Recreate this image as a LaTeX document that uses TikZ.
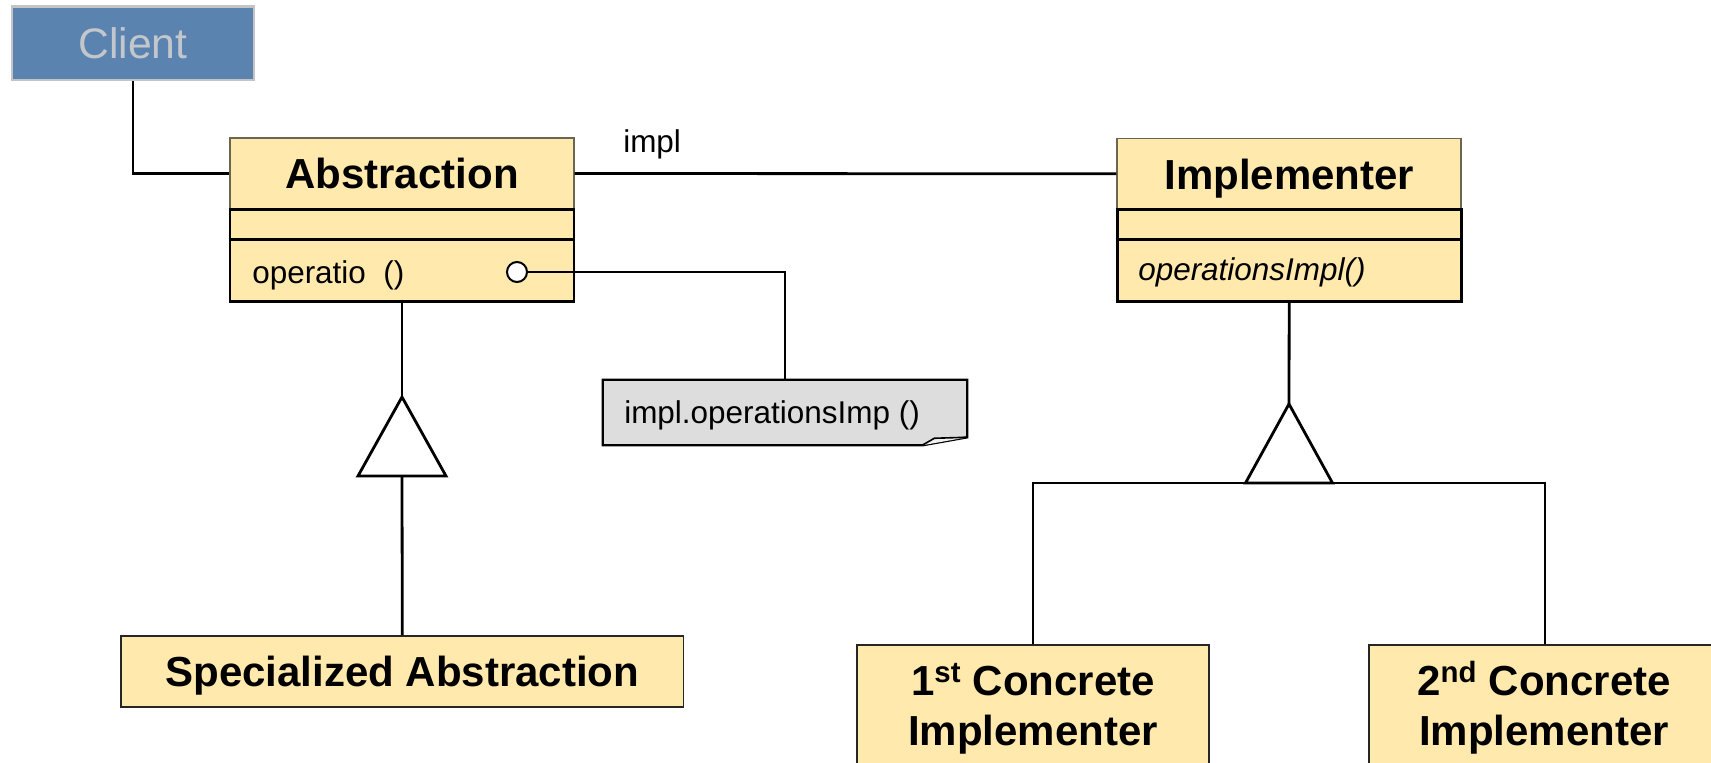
\documentclass[tikz,border=0pt]{standalone}
\usepackage{fontspec}
\setmainfont{Liberation Sans}
\usetikzlibrary{calc,fit}
\definecolor{clientfill}{HTML}{5A83B0}
\definecolor{clientborder}{HTML}{C4C4C4}
\definecolor{clienttext}{HTML}{C3C7CC}
\definecolor{classfill}{HTML}{FFE9AD}
\definecolor{nameborder}{HTML}{6B6651}
\definecolor{notefill}{HTML}{DDDDDD}
\definecolor{flapfill}{HTML}{F2F2F2}
\begin{document}
\begin{tikzpicture}[x=0.75pt,y=-0.75pt,
  conn/.style={line width=2.1pt, draw=black},
  namebox/.style={draw=nameborder, line width=1.1pt, fill=classfill, inner sep=0pt, minimum width=258pt, minimum height=53.25pt},
  compbox/.style={draw=black, line width=2.1pt, fill=classfill, inner sep=0pt, minimum width=258pt, minimum height=69.5pt},
  leafbox/.style={draw=black!85, line width=1.2pt, fill=classfill, inner sep=0pt},
  titletext/.style={font=\fontsize{31.5}{37.5}\selectfont\bfseries, text depth=0pt},
  bodytext/.style={font=\fontsize{23.6}{28}\selectfont, inner sep=0pt},
]
\useasboundingbox (0,0) rectangle (1711,763);
\clip (0,0) rectangle (1711,763);

% Client
\node[inner sep=0pt, minimum width=181.5pt, minimum height=55.1pt, fill=clientfill, draw=clientborder, line width=2.2pt,
      text=clienttext, font=\fontsize{32}{38}\selectfont, text depth=0pt] (client) at (133,43.25) {Client};

% Abstraction
\node[namebox, titletext] (absname) at (402,173.5) {Abstraction};
\node[compbox] (abscomp) at (402,255.5) {};
\draw[line width=2.1pt] ($(abscomp.north west)+(0,31.7)$) -- ($(abscomp.north east)+(0,31.7)$);
\node[bodytext, anchor=base west] (absop) at (252,283) {operatio\ \ ()};
\node[circle, draw=black, fill=white, line width=1.5pt, minimum size=15pt, inner sep=0pt] (circ) at (517,272) {};

% Implementer
\node[namebox, titletext] (implname) at (1289.2,173.8) {Implementer};
\node[compbox] (implcomp) at (1289.2,255.5) {};
\draw[line width=2.1pt] ($(implcomp.north west)+(0,31.4)$) -- ($(implcomp.north east)+(0,31.4)$);
\node[bodytext, anchor=base west] (implop) at (1138,281) {\itshape operationsImpl()};

% Client to Abstraction
\draw[conn] (client.south) |- (absname.west);

% Association
\draw[conn] (absname.east) -- (implname.west);
\node[bodytext, anchor=base west] (impllabel) at (623,153) {impl};

% Note
\node[fit={(603,380) (967,445)}, inner sep=0pt] (note) {};
\draw[line width=1.8pt, fill=notefill] (note.north west) -- (note.north east) -- ($(note.south east)+(0,-8)$)
  -- ($(note.south east)+(-45,0)$) -- (note.south west) -- cycle;
\draw[line width=1.2pt, fill=flapfill] ($(note.south east)+(-45,0)$) -- ($(note.south east)+(-33,-7)$) -- ($(note.south east)+(0,-8)$);
\node[bodytext, anchor=base west] (notetext) at (624,423) {impl.operationsImp ()};
\draw[conn] (circ.east) -| (note.north);

% Specialized Abstraction
\node[leafbox, titletext, minimum width=421.95pt, minimum height=53.25pt] (spec) at (402.3,671.2) {Specialized Abstraction};
\coordinate (tA) at (402,397);
\coordinate (tAl) at (358,476);
\coordinate (tAr) at (446,476);
\coordinate (tAb) at (402,476);
\draw[conn] (abscomp.south) -- (tA);
\draw[conn] (tAb) -- (spec.north);
\draw[conn, fill=white] (tA) -- (tAr) -- (tAl) -- cycle;

% Concrete implementers
\node[leafbox, fit={(857,645) (1209,800)}] (conc1) {};
\node[leafbox, fit={(1369,645) (1721,800)}] (conc2) {};
\node[titletext, align=center, anchor=base, inner sep=0pt] (conc1text) at (1033,745) {1\textsuperscript{st} Concrete\\Implementer};
\node[titletext, align=center, anchor=base, inner sep=0pt] (conc2text) at (1544,745) {2\textsuperscript{nd} Concrete\\Implementer};
\coordinate (tB) at (1289,404);
\coordinate (tBl) at (1245.5,483);
\coordinate (tBr) at (1332.5,483);
\coordinate (tBb) at (1289,483);
\draw[conn] (implcomp.south) -- (tB);
\draw[conn] (tBb) -| (conc1.north);
\draw[conn] (tBb) -| (conc2.north);
\draw[conn, fill=white] (tB) -- (tBr) -- (tBl) -- cycle;
\end{tikzpicture}
\end{document}
